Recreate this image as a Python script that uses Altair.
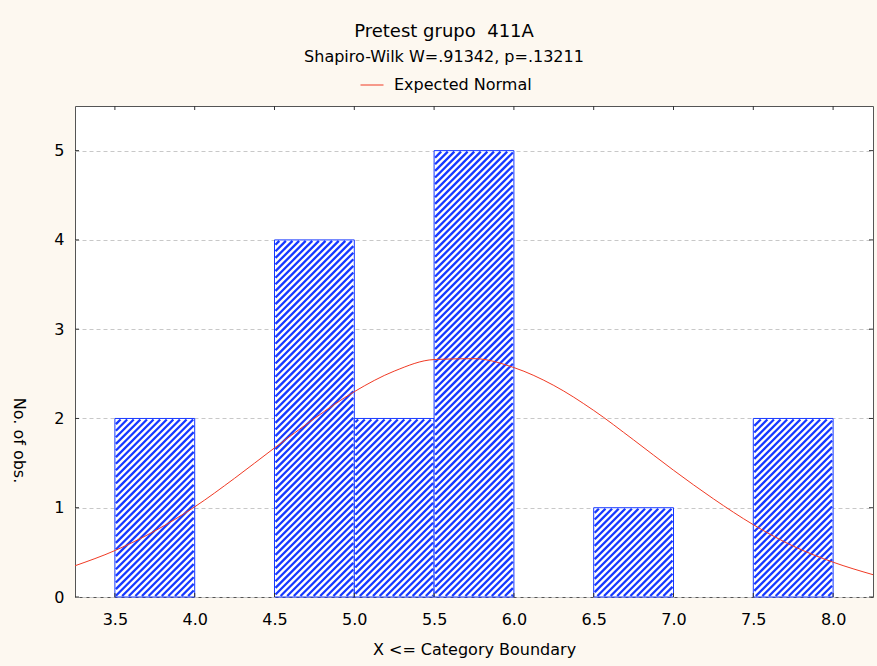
import altair as alt
import pandas as pd

# Histogram bins (upper boundary inclusive) and observed counts
bin_lo = [3.5, 4.0, 4.5, 5.0, 5.5, 6.0, 6.5, 7.0, 7.5]
bin_hi = [4.0, 4.5, 5.0, 5.5, 6.0, 6.5, 7.0, 7.5, 8.0]
counts = [2, 0, 4, 2, 5, 0, 1, 0, 2]

# Expected normal frequencies along the x range
curve_x = [3.25, 3.5, 3.75, 4.0, 4.25, 4.5, 4.75, 5.0, 5.25, 5.5, 5.75,
           6.0, 6.25, 6.5, 6.75, 7.0, 7.25, 7.5, 7.75, 8.0, 8.25]
curve_y = [0.35, 0.52, 0.74, 1.01, 1.33, 1.67, 2.00, 2.30, 2.53, 2.66, 2.67,
           2.57, 2.37, 2.09, 1.76, 1.42, 1.10, 0.81, 0.57, 0.39, 0.25]

x_ticks = [3.5, 4.0, 4.5, 5.0, 5.5, 6.0, 6.5, 7.0, 7.5, 8.0]
y_ticks = [0, 1, 2, 3, 4, 5]

X_DOM = [3.25, 8.25]
Y_DOM = [0, 5.5]
W, H = 798, 491
FONT = "DejaVu Sans"
BLUE = "#1638ff"
RED = "#f03a24"
FRAME = "#555555"
TICK = "#333333"

bars = pd.DataFrame({"lo": bin_lo, "hi": bin_hi, "n": counts})
bars = bars[bars["n"] > 0].reset_index(drop=True)
curve = pd.DataFrame({"x": curve_x, "y": curve_y, "s": "Expected Normal"})
xt = pd.DataFrame({"t": x_ticks})
yt = pd.DataFrame({"v": y_ticks})

# Diagonal '/' hatching inside each bar, derived from the bar extents.
# Lines follow 45 degrees on screen, so work in pixel units and convert back.
PXX = W / (X_DOM[1] - X_DOM[0])
PXY = H / (Y_DOM[1] - Y_DOM[0])
PITCH = 6.6   # horizontal distance between hatch lines, px
INSET = 1.0   # keep line ends inside the outline, px

segs = []
for lo, hi, n in zip(bars["lo"], bars["hi"], bars["n"]):
    left = (lo - X_DOM[0]) * PXX + INSET
    right = (hi - X_DOM[0]) * PXX - INSET
    bottom = INSET
    top = n * PXY - INSET
    # line: z - X = c, with X the global pixel x and z height above the baseline
    c_min = bottom - right
    c_max = top - left
    k = int(c_min // PITCH) + 1
    while k * PITCH < c_max:
        c = k * PITCH
        x0 = max(left, bottom - c)
        x1 = min(right, top - c)
        if x1 > x0:
            segs.append({
                "x": X_DOM[0] + x0 / PXX, "y": (x0 + c) / PXY,
                "x2": X_DOM[0] + x1 / PXX, "y2": (x1 + c) / PXY,
            })
        k += 1
hatch = pd.DataFrame(segs)

xscale = alt.Scale(domain=X_DOM, nice=False, zero=False)
yscale = alt.Scale(domain=Y_DOM, nice=False, zero=False)

xaxis = alt.Axis(values=x_ticks, format=".1f", title="X <= Category Boundary",
                 ticks=False, domain=False, grid=False, labelPadding=14, titlePadding=14)
yaxis = alt.Axis(values=y_ticks, format="d", title="No. of obs.",
                 ticks=False, domain=False, grid=True, gridColor="#c8c8c8",
                 gridDash=[4, 3], labelPadding=11, titleAngle=90,
                 titleX=-57, titleY=334, titleAlign="center", titleBaseline="middle")

hist = alt.Chart(bars).mark_rect(stroke=BLUE, strokeWidth=1, fill="#ffffff").encode(
    x=alt.X("lo:Q", scale=xscale, axis=xaxis),
    x2="hi:Q",
    y=alt.Y("n:Q", scale=yscale, axis=yaxis),
    y2=alt.datum(0),
)

hatching = alt.Chart(hatch).mark_rule(color=BLUE, strokeWidth=2.3).encode(
    x=alt.X("x:Q", scale=xscale, axis=xaxis),
    y=alt.Y("y:Q", scale=yscale, axis=yaxis),
    x2="x2:Q",
    y2="y2:Q",
)

line = alt.Chart(curve).mark_line(strokeWidth=1, clip=True, interpolate="monotone").encode(
    x=alt.X("x:Q", scale=xscale, axis=xaxis),
    y=alt.Y("y:Q", scale=yscale, axis=yaxis),
    color=alt.Color("s:N", scale=alt.Scale(domain=["Expected Normal"], range=[RED]),
                    legend=alt.Legend(orient="none", legendX=285, legendY=-33, title=None,
                                      symbolType="stroke", symbolSize=529,
                                      symbolStrokeWidth=1, labelFontSize=16, labelFont=FONT,
                                      labelColor="#000000", labelOffset=10, padding=0)),
)

# Inward tick marks on all four sides of the frame
top_ticks = alt.Chart(xt).mark_rule(color=TICK, strokeWidth=1).encode(
    x=alt.X("t:Q", scale=xscale, axis=xaxis), y=alt.value(0), y2=alt.value(4))
bot_ticks = alt.Chart(xt).mark_rule(color=TICK, strokeWidth=1).encode(
    x=alt.X("t:Q", scale=xscale, axis=xaxis), y=alt.value(H - 4), y2=alt.value(H))
left_ticks = alt.Chart(yt).mark_rule(color=TICK, strokeWidth=1).encode(
    y=alt.Y("v:Q", scale=yscale, axis=yaxis), x=alt.value(0), x2=alt.value(4))
right_ticks = alt.Chart(yt).mark_rule(color=TICK, strokeWidth=1).encode(
    y=alt.Y("v:Q", scale=yscale, axis=yaxis), x=alt.value(W - 4), x2=alt.value(W))

chart = alt.layer(hist, hatching, line, top_ticks, bot_ticks, left_ticks, right_ticks).properties(
    width=W,
    height=H,
    title=alt.TitleParams(
        text="Pretest grupo\u00a0 411A",
        subtitle="Shapiro-Wilk W=.91342, p=.13211",
        font=FONT, fontSize=18, fontWeight="normal", color="#000000",
        subtitleFont=FONT, subtitleFontSize=16, subtitleColor="#000000",
        subtitlePadding=8, anchor="middle", frame="group", dx=-30, offset=8,
    ),
    autosize=alt.AutoSizeParams(type="none"),
    padding={"left": 75, "top": 106, "right": 4, "bottom": 69},
    background="#fdf8f0",
).configure_view(
    fill="#ffffff", stroke=FRAME, strokeWidth=1
).configure_axis(
    labelFont=FONT, labelFontSize=16, labelColor="#000000",
    titleFont=FONT, titleFontSize=16, titleColor="#000000", titleFontWeight="normal",
)

chart.save("out.html", embed_options={"renderer": "svg", "actions": False})
